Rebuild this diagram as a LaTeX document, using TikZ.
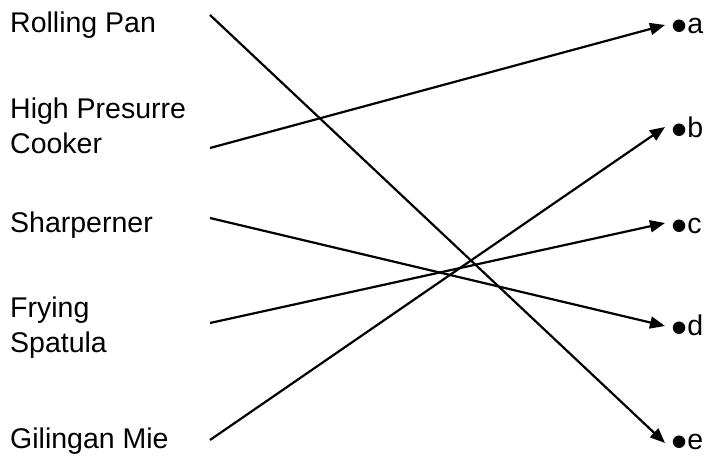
\documentclass[tikz,border=0pt]{standalone}
\usepackage{fontspec}
\setmainfont{Liberation Sans}
\usetikzlibrary{arrows.meta}

\newcommand{\bigdot}{\raisebox{-8.6pt}[0pt][0pt]{\fontsize{46}{46}\selectfont\textbullet}}

\begin{document}
\begin{tikzpicture}[x=1pt, y=-1pt,
                    item/.style={anchor=base west, inner sep=0pt, align=left,
                                 font=\fontsize{28.5}{35}\selectfont},
                    mark item/.style={anchor=base west, inner sep=0pt,
                                 font=\fontsize{28.5}{35}\selectfont},
                    link/.style={line width=2.2pt, -{Triangle[length=15pt, width=12pt]}}]
  \useasboundingbox (0,0) rectangle (705,458);
  % left column
  \node[item] (rolling) at (10,32) {Rolling Pan};
  \node[item] (cooker) at (10,153) {High Presurre\\Cooker};
  \node[item] (sharp) at (10,232) {Sharperner};
  \node[item] (frying) at (10,352) {Frying\\Spatula};
  \node[item] (mie) at (10,448) {Gilingan Mie};
  % right column
  \node[mark item] (a) at (671,33) {\bigdot a};
  \node[mark item] (b) at (671,137) {\bigdot b};
  \node[mark item] (c) at (671,233) {\bigdot c};
  \node[mark item] (d) at (671,335) {\bigdot d};
  \node[mark item] (e) at (671,449) {\bigdot e};
  % line ends
  \coordinate (rolling-out) at (210,15);
  \coordinate (cooker-out) at (210,148);
  \coordinate (sharp-out) at (210,218);
  \coordinate (frying-out) at (210,323);
  \coordinate (mie-out) at (210,440);
  \coordinate (a-in) at (665,25);
  \coordinate (b-in) at (665,127);
  \coordinate (c-in) at (665,223);
  \coordinate (d-in) at (665,326);
  \coordinate (e-in) at (665,443);
  \draw[link] (rolling-out) -- (e-in);
  \draw[link] (cooker-out) -- (a-in);
  \draw[link] (sharp-out) -- (d-in);
  \draw[link] (frying-out) -- (c-in);
  \draw[link] (mie-out) -- (b-in);
\end{tikzpicture}
\end{document}
